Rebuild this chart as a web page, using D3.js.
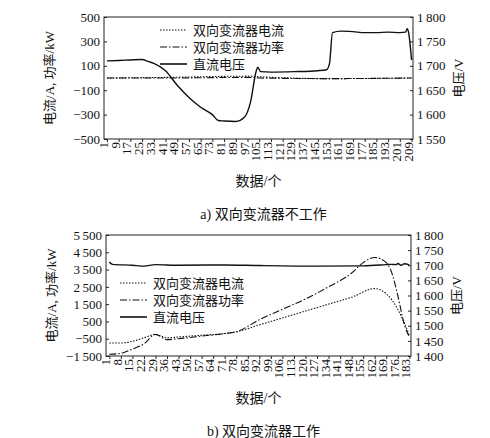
<!DOCTYPE html><html><head><meta charset="utf-8">
<script src="https://cdn.jsdelivr.net/npm/d3@7"></script>
<style>body{margin:0;background:#fff}svg text{font-family:"Liberation Serif","Noto Sans CJK SC",serif !important;fill:#111}</style></head><body>
<svg id="c" width="490" height="438"></svg>
<script>
// Chart a
const aIdx = [1,9,17,25,29,33,41,49,57,65,73,77,81,89,95,99,103,104,106,113,129,145,151,153,155,161,169,177,185,193,201,205,206,207,209];
const aVolt = [1710,1711,1712,1713,1709,1705,1690,1660,1635,1615,1600,1588,1587,1586,1595,1625,1690,1697,1688,1687,1688,1690,1692,1705,1768,1771,1770,1768,1768,1769,1768,1769,1776,1768,1712];
const aCurIdx = [1,41,97,105,153,209];
const aCur = [0,5,15,10,-5,0];
const aPow = [0,0,5,0,-5,0];
const aTicks = d3.range(1,210,8);
// Chart b
const bIdx = [1,8,15,22,29,36,43,57,71,78,92,106,120,134,148,162,169,176,180,183];
const bCur = [-750,-750,-650,-450,-250,-450,-400,-300,-200,-100,300,700,1100,1500,1900,2400,2100,1200,400,-300];
const bPowIdx = [1,8,15,22,29,36,43,57,71,78,92,106,120,134,148,155,162,169,172,176,180,183];
const bPow = [-1400,-1350,-1100,-800,-250,-550,-500,-350,-200,-100,600,1200,1800,2500,3300,3900,4200,3900,3400,2000,300,-400];
const bVIdx = [1,3,15,22,29,43,71,92,127,155,169,172,175,176,178,180,183];
const bVolt = [1711,1703,1700,1697,1702,1700,1701,1699,1697,1698,1702,1703,1702,1706,1700,1705,1701];
const bTicks = d3.range(1,184,7);
const fmt = v => { const s=Math.abs(v).toString(); const t = s.length>3 ? s.slice(0,-3)+"\u2009"+s.slice(-3) : s; return (v<0?"\u2212":"")+t; };

const svg = d3.select("#c");
function panel(o){
  const g = svg.append("g");
  const x = d3.scaleLinear().domain(o.xd).range([o.x0,o.x1]);
  const y = d3.scaleLinear().domain(o.yd).range([o.y1,o.y0]);
  const y2 = d3.scaleLinear().domain(o.y2d).range([o.y1,o.y0]);
  g.append("rect").attr("x",o.x0).attr("y",o.y0).attr("width",o.x1-o.x0).attr("height",o.y1-o.y0).attr("fill","none").attr("stroke","#222");
  const ax = g.append("g").attr("transform",`translate(0,${o.y1})`).call(d3.axisBottom(x).tickValues(o.ticks).tickSize(3).tickFormat(d3.format("d")));
  ax.selectAll("text").attr("transform","rotate(-90)").attr("x",-3).attr("y",-4).attr("dy","0.35em").style("text-anchor","end").style("font-size","13px");
  const ay = g.append("g").attr("transform",`translate(${o.x0},0)`).call(d3.axisLeft(y).tickValues(o.yt).tickSize(-3).tickPadding(4).tickFormat(fmt));
  ay.selectAll("text").style("font-size","13px");
  const ay2 = g.append("g").attr("transform",`translate(${o.x1},0)`).call(d3.axisRight(y2).tickValues(o.y2t).tickSize(-3).tickPadding(4).tickFormat(fmt));
  ay2.selectAll("text").style("font-size","13px");
  g.selectAll("g").attr("font-family",null);
  g.selectAll(".domain").remove();
  g.selectAll(".tick line").attr("stroke","#222");
  const ln = (xs,ys,sc)=>d3.line().x((d,i)=>x(xs[i])).y(d=>sc(d)).curve(d3.curveMonotoneX)(ys);
  g.append("path").attr("d",ln(o.ci,o.c,y)).attr("fill","none").attr("stroke","#111").attr("stroke-width",1.1).attr("stroke-dasharray","1.5,1.5");
  g.append("path").attr("d",ln(o.pi,o.p,y)).attr("fill","none").attr("stroke","#111").attr("stroke-width",1.1).attr("stroke-dasharray","7,2,1.5,2");
  g.append("path").attr("d",ln(o.vi,o.v,y2)).attr("fill","none").attr("stroke","#111").attr("stroke-width",1.4);
  const L = [["双向变流器电流","1.5,1.5"],["双向变流器功率","7,2,1.5,2"],["直流电压",null]];
  L.forEach((l,i)=>{const yy=o.ly+i*17;
    g.append("line").attr("x1",o.lx).attr("x2",o.lx+27).attr("y1",yy).attr("y2",yy).attr("stroke","#111").attr("stroke-width",l[1]?1.1:1.6).attr("stroke-dasharray",l[1]);
    g.append("text").attr("x",o.lx+33).attr("y",yy).attr("dy","0.35em").style("font-size","13px").text(l[0]);});
  g.append("text").attr("transform",`translate(${o.x0-50},${(o.y0+o.y1)/2}) rotate(-90)`).attr("text-anchor","middle").style("font-size","13px").text("电流/A, 功率/kW");
  g.append("text").attr("transform",`translate(${o.x1+50},${(o.y0+o.y1)/2}) rotate(-90)`).attr("text-anchor","middle").style("font-size","13px").text("电压/V");
  g.append("text").attr("x",(o.x0+o.x1)/2).attr("y",o.y1+47).attr("text-anchor","middle").style("font-size","14px").text("数据/个");
  g.append("text").attr("x",(o.x0+o.x1)/2+5).attr("y",o.y1+80).attr("text-anchor","middle").style("font-size","14px").text(o.cap);
}
panel({x0:104,x1:413,y0:17,y1:139,xd:[-1,210],yd:[-500,500],yt:[-500,-300,-100,100,300,500],y2d:[1550,1800],y2t:[1550,1600,1650,1700,1750,1800],
  ticks:aTicks,ci:aCurIdx,c:aCur,pi:aCurIdx,p:aPow,vi:aIdx,v:aVolt,lx:160,ly:30,cap:"a)  双向变流器不工作"});
panel({x0:106,x1:411,y0:235,y1:356,xd:[-1,184],yd:[-1500,5500],yt:[-1500,-500,500,1500,2500,3500,4500,5500],y2d:[1400,1800],y2t:[1400,1450,1500,1550,1600,1650,1700,1750,1800],
  ticks:bTicks,ci:bIdx,c:bCur,pi:bPowIdx,p:bPow,vi:bVIdx,v:bVolt,lx:120,ly:283,cap:"b)  双向变流器工作"});
</script></body></html>
